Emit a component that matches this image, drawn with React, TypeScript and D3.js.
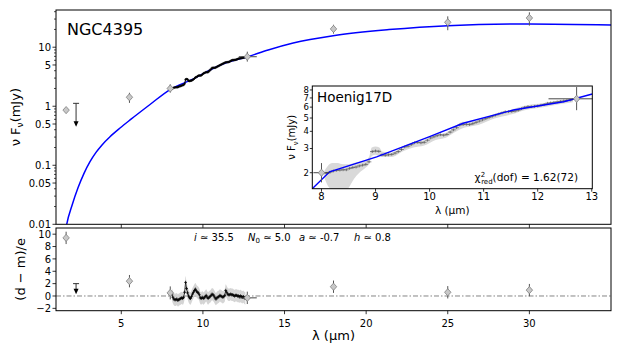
import React from "react";
import * as d3 from "d3";

// ---------- data ----------
// photometry (lambda in um, nuFnu in mJy)
const photLam = [1.62, 5.5, 8.0, 12.72, 18.0, 25.0, 30.0];
const photF = [0.86, 1.42, 2.0, 6.9, 20.4, 26.4, 31.3];
const photFLo = [0.86, 1.14, 1.7, 5.7, 17.0, 19.4, 23.2];
const photFHi = [0.86, 1.69, 2.35, 8.4, 24.0, 33.3, 39.0];
const photLamLo = [1.62, 5.5, 7.85, 12.2, 18.0, 25.0, 30.0];
const photLamHi = [1.62, 5.5, 8.15, 13.3, 18.0, 25.0, 30.0];
const photRes = [9.4, 2.4, 0.5, -0.3, 1.5, 0.6, 0.95];
const photResErr = [1, 1, 1.05, 1, 1, 1, 1];

// upper limit
const ulLam = 2.23;
const ulF = 1.12;
const ulRes = 2.0;

// model curve (main panel)
const modelLam = [1.55, 1.656, 1.98, 2.348, 2.716, 3.083, 3.451, 3.819, 4.309, 4.922, 5.596, 6.76, 7.985, 9.42, 10.5, 11.46, 12.74, 14.0, 15.53, 17.98, 21.4, 25.0, 30.0, 35.0];
const modelF = [0.0068, 0.01, 0.0208, 0.0415, 0.0728, 0.1149, 0.1652, 0.2214, 0.3048, 0.4279, 0.6033, 1.07, 1.92, 2.9, 4.2, 5.5, 6.9, 9.0, 11.8, 15.7, 19.9, 23.2, 24.8, 23.8];

// model sampled for the inset
const insetModelLam = [7.83, 8.15, 9.02, 10.0, 10.62, 11.55, 12.48, 13.01];
const insetModelF = [1.53, 2.03, 2.61, 3.66, 4.58, 5.72, 6.57, 7.48];

// spectrum
const specLam = [8.10, 8.16, 8.22, 8.28, 8.34, 8.40, 8.46, 8.52, 8.58, 8.64, 8.70, 8.76, 8.82, 8.88, 8.94, 9.00, 9.06, 9.12, 9.18, 9.24, 9.30, 9.36, 9.42, 9.48, 9.54, 9.60, 9.66, 9.72, 9.78, 9.84, 9.90, 9.96, 10.02, 10.08, 10.14, 10.20, 10.26, 10.32, 10.38, 10.44, 10.50, 10.56, 10.62, 10.68, 10.74, 10.80, 10.86, 10.92, 10.98, 11.04, 11.10, 11.16, 11.22, 11.28, 11.34, 11.40, 11.46, 11.52, 11.58, 11.64, 11.70, 11.76, 11.82, 11.88, 11.94, 12.00, 12.06, 12.12, 12.18, 12.24, 12.30, 12.36, 12.42, 12.48, 12.54, 12.60];
const specF = [1.98, 2.02, 2.06, 2.08, 2.09, 2.10, 2.10, 2.15, 2.18, 2.20, 2.24, 2.27, 2.30, 2.40, 2.85, 2.88, 2.86, 2.70, 2.68, 2.70, 2.72, 2.78, 2.85, 2.95, 3.08, 3.12, 3.20, 3.30, 3.32, 3.30, 3.33, 3.45, 3.58, 3.65, 3.72, 3.78, 3.75, 3.80, 3.95, 4.10, 4.25, 4.45, 4.48, 4.50, 4.48, 4.55, 4.65, 4.75, 4.85, 4.95, 5.05, 5.15, 5.25, 5.35, 5.45, 5.55, 5.56, 5.58, 5.62, 5.70, 5.85, 5.98, 6.05, 6.05, 6.08, 6.12, 6.20, 6.28, 6.40, 6.45, 6.50, 6.55, 6.60, 6.65, 6.70, 6.75];
const specRes = [0.3, -0.2, -0.5, -0.6, -0.6, -0.5, -0.7, -0.6, -0.5, -0.4, -0.3, -0.4, -0.2, 0.6, 2.2, 1.2, 0.5, 0.0, -0.3, -0.4, -0.1, 0.3, 0.6, 0.9, 1.1, 0.8, 0.6, 0.5, 0.2, -0.3, -0.4, -0.2, -0.4, -0.3, -0.1, 0.1, -0.2, -0.4, -0.2, -0.1, 0.1, 0.3, 0.2, 0.0, -0.3, -0.5, -0.3, -0.2, -0.1, 0.1, 0.0, -0.1, -0.2, -0.1, 0.1, 0.9, 0.6, 0.3, 0.2, 0.2, 0.3, 0.2, 0.2, 0.1, 0.0, 0.1, 0.1, 0.0, 0.0, -0.1, 0.0, -0.1, -0.2, -0.1, -0.3, -0.4];
const specResErr = 1.0;

// spectrum uncertainty band
const bandLam = [8.05, 8.12, 8.2, 8.3, 8.4, 8.5, 8.6, 8.7, 8.8, 8.88, 8.93, 9.0, 9.07, 9.12, 9.3, 9.5, 9.7, 9.9, 10.1, 10.3, 10.5, 10.6, 10.7, 10.9, 11.2, 11.5, 11.8, 12.1, 12.4, 12.65];
const bandLo = [1.85, 1.6, 1.5, 1.45, 1.45, 1.55, 1.8, 2.0, 2.15, 2.3, 2.65, 2.7, 2.65, 2.6, 2.6, 2.85, 3.05, 3.15, 3.45, 3.6, 4.0, 4.2, 4.3, 4.45, 4.95, 5.3, 5.75, 6.0, 6.3, 6.5];
const bandHi = [2.05, 2.25, 2.35, 2.35, 2.3, 2.3, 2.35, 2.4, 2.45, 2.6, 3.05, 3.1, 3.05, 2.85, 2.8, 3.1, 3.35, 3.45, 3.75, 3.9, 4.4, 4.7, 4.7, 4.8, 5.3, 5.75, 6.2, 6.4, 6.7, 6.9];

// ticks
const xTicks = [5, 10, 15, 20, 25, 30];
const topYTicks = [0.01, 0.05, 0.1, 0.5, 1, 5, 10];
const topYTickLabels = ["0.01", "0.05", "0.1", "0.5", "1", "5", "10"];
const botYTicks = [-2, 0, 2, 4, 6, 8, 10];
const botYTickLabels = ["\u22122", "0", "2", "4", "6", "8", "10"];
const insetXTicks = [8, 9, 10, 11, 12, 13];
const insetYTicks = [2, 3, 4, 5, 6, 7, 8];

const FONT = "DejaVu Sans";

export default function App() {
  const W = 623, H = 346;
  const X0 = 56, X1 = 611;
  const T0 = 10, T1 = 224.3;
  const B0 = 228, B1 = 310.7;
  const IX0 = 312.3, IX1 = 592.3, IY0 = 86, IY1 = 188.7;

  const x = d3.scaleLinear().domain([1, 35]).range([X0, X1]);
  const yT = d3.scaleLog().domain([0.01, 42.7]).range([T1, T0]);
  const yB = d3.scaleLinear().domain([-2.38, 11]).range([B1, B0]);
  const xi = d3.scaleLinear().domain([7.83, 13.01]).range([IX0, IX1]);
  const yi = d3.scaleLog().domain([1.53, 8.55]).range([IY1, IY0]);

  const minorTop = yT.ticks().filter((t) => !topYTicks.includes(t));

  const modelPath = d3.line<number>().x((_, i) => x(modelLam[i])).y((d) => yT(d)).curve(d3.curveMonotoneX)(modelF) || "";
  const insetModelPath = d3.line<number>().x((_, i) => xi(insetModelLam[i])).y((d) => yi(d))(insetModelF) || "";
  const specPathMain = d3.line<number>().x((_, i) => x(specLam[i])).y((d) => yT(d))(specF) || "";
  const bandInset = d3.area<number>().x((_, i) => xi(bandLam[i])).y0((_, i) => yi(bandLo[i])).y1((d) => yi(d)).curve(d3.curveMonotoneX)(bandHi) || "";
  const resBand = d3.area<number>().x((_, i) => x(specLam[i])).y0((d) => yB(d - specResErr)).y1((d) => yB(d + specResErr)).curve(d3.curveMonotoneX)(specRes) || "";
  const resLine = d3.line<number>().x((_, i) => x(specLam[i])).y((d) => yB(d))(specRes) || "";

  const diamond = (cx: number, cy: number, k: string) => (
    <path key={k} d={`M${cx},${cy - 3.6}L${cx + 3.2},${cy}L${cx},${cy + 3.6}L${cx - 3.2},${cy}Z`} fill="#c8c8c8" stroke="#808080" strokeWidth={0.8} />
  );
  const plus = (cx: number, cy: number, hw: number, hh: number, color: string, sw: number, k: string) => (
    <path key={k} d={`M${cx - hw},${cy}H${cx + hw}M${cx},${cy - hh}V${cy + hh}`} stroke={color} strokeWidth={sw} fill="none" />
  );

  const tickFs = 10;

  return (
    <svg width={W} height={H} style={{ position: "absolute", left: 0, top: 0, background: "#fff" }} fontFamily={FONT}>
      <defs>
        <clipPath id="cpTop"><rect x={X0} y={T0} width={X1 - X0} height={T1 - T0} /></clipPath>
        <clipPath id="cpBot"><rect x={X0} y={B0} width={X1 - X0} height={B1 - B0} /></clipPath>
        <clipPath id="cpIn"><rect x={IX0} y={IY0} width={IX1 - IX0} height={IY1 - IY0} /></clipPath>
      </defs>
      <rect x={0} y={0} width={W} height={H} fill="#fff" />

      {/* ===== top panel ===== */}
      <g clipPath="url(#cpTop)">
        <path d={modelPath} fill="none" stroke="#0000ff" strokeWidth={1.5} />
        <path d={specPathMain} fill="none" stroke="#111" strokeWidth={1.2} />
        {specLam.map((l, i) => plus(x(l), yT(specF[i]), 1.3, 1.3, "#000", 0.8, "sm" + i))}
        {photLam.map((l, i) => (
          <g key={"pe" + i}>
            <line x1={x(l)} x2={x(l)} y1={yT(photFLo[i])} y2={yT(photFHi[i])} stroke="#555" strokeWidth={1} />
            <line x1={x(photLamLo[i])} x2={x(photLamHi[i])} y1={yT(photF[i])} y2={yT(photF[i])} stroke="#333" strokeWidth={0.9} />
          </g>
        ))}
        {photLam.map((l, i) => diamond(x(l), yT(photF[i]), "pd" + i))}
        {/* upper limit */}
        <line x1={x(ulLam) - 3} x2={x(ulLam) + 3} y1={yT(ulF)} y2={yT(ulF)} stroke="#333" strokeWidth={1} />
        <line x1={x(ulLam)} x2={x(ulLam)} y1={yT(ulF)} y2={yT(ulF) + 19} stroke="#333" strokeWidth={1} />
        <path d={`M${x(ulLam) - 2.5},${yT(ulF) + 18}L${x(ulLam) + 2.5},${yT(ulF) + 18}L${x(ulLam)},${yT(ulF) + 23.5}Z`} fill="#000" />
      </g>
      <rect x={X0} y={T0} width={X1 - X0} height={T1 - T0} fill="none" stroke="#000" strokeWidth={1} />
      {minorTop.map((t, i) => (
        <line key={"mt" + i} x1={X0 - 2} x2={X0} y1={yT(t)} y2={yT(t)} stroke="#000" strokeWidth={0.7} />
      ))}
      {topYTicks.map((t, i) => (
        <g key={"yt" + i}>
          <line x1={X0 - 3.5} x2={X0} y1={yT(t)} y2={yT(t)} stroke="#000" strokeWidth={0.8} />
          <text x={X0 - 5} y={yT(t)} dy="0.36em" textAnchor="end" fontSize={tickFs}>{topYTickLabels[i]}</text>
        </g>
      ))}
      {xTicks.map((t, i) => (
        <line key={"xtt" + i} x1={x(t)} x2={x(t)} y1={T1} y2={T1 + 3.5} stroke="#000" strokeWidth={0.8} />
      ))}
      <text x={67} y={35} fontSize={16}>NGC4395</text>
      <text transform={`translate(20,${(T0 + T1) / 2}) rotate(-90)`} textAnchor="middle" fontSize={13}>
        ν F<tspan fontSize={9} dy="3">ν</tspan><tspan dy="-3">(mJy)</tspan>
      </text>

      {/* ===== inset ===== */}
      <rect x={IX0} y={IY0} width={IX1 - IX0} height={IY1 - IY0} fill="#fff" />
      <g clipPath="url(#cpIn)">
        <path d={bandInset} fill="#d9d9d9" />
        {specLam.map((l, i) => plus(xi(l), yi(specF[i]), 2.3, 1.4, "#555", 0.7, "si" + i))}
        <path d={insetModelPath} fill="none" stroke="#0000ff" strokeWidth={1.4} />
        {photLam.map((l, i) => (
          <g key={"ie" + i}>
            <line x1={xi(l)} x2={xi(l)} y1={yi(photFLo[i])} y2={yi(photFHi[i])} stroke="#555" strokeWidth={1} />
            <line x1={xi(photLamLo[i])} x2={xi(photLamHi[i])} y1={yi(photF[i])} y2={yi(photF[i])} stroke="#333" strokeWidth={0.9} />
          </g>
        ))}
        {photLam.map((l, i) => diamond(xi(l), yi(photF[i]), "id" + i))}
      </g>
      <rect x={IX0} y={IY0} width={IX1 - IX0} height={IY1 - IY0} fill="none" stroke="#000" strokeWidth={1} />
      {insetXTicks.map((t, i) => (
        <g key={"ixt" + i}>
          <line x1={xi(t)} x2={xi(t)} y1={IY1} y2={IY1 + 3} stroke="#000" strokeWidth={0.8} />
          <text x={xi(t)} y={200} textAnchor="middle" fontSize={tickFs}>{t}</text>
        </g>
      ))}
      {insetYTicks.map((t, i) => (
        <g key={"iyt" + i}>
          <line x1={IX0 - 2.5} x2={IX0} y1={yi(t)} y2={yi(t)} stroke="#000" strokeWidth={0.8} />
          <text x={IX0 - 3.5} y={yi(t)} dy="0.34em" textAnchor="end" fontSize={8.5}>{t}</text>
        </g>
      ))}
      <text x={317} y={102} fontSize={13.5}>Hoenig17D</text>
      <text x={578} y={181} textAnchor="end" fontSize={10.5}>
        χ<tspan fontSize={7} dy="-4.5">2</tspan><tspan fontSize={7} dx="-4" dy="7.5">red</tspan><tspan dy="-3">(dof) = 1.62(72)</tspan>
      </text>
      <text x={(IX0 + IX1) / 2} y={214} textAnchor="middle" fontSize={10.5}>λ (μm)</text>
      <text transform={`translate(295,${(IY0 + IY1) / 2}) rotate(-90)`} textAnchor="middle" fontSize={10}>
        ν F<tspan fontSize={7} dy="2.5">ν</tspan><tspan dy="-2.5">(mJy)</tspan>
      </text>

      {/* ===== bottom panel ===== */}
      <g clipPath="url(#cpBot)">
        <line x1={X0} x2={X1} y1={yB(0)} y2={yB(0)} stroke="#777" strokeWidth={0.9} strokeDasharray="5,2,1.5,2" />
        <path d={resBand} fill="#d0d0d0" opacity={0.9} />
        <path d={resLine} fill="none" stroke="#222" strokeWidth={0.8} />
        {specLam.map((l, i) => plus(x(l), yB(specRes[i]), 1.4, 1.6, "#000", 0.8, "rs" + i))}
        {photLam.map((l, i) => (
          <g key={"re" + i}>
            <line x1={x(l)} x2={x(l)} y1={yB(photRes[i] - photResErr[i])} y2={yB(photRes[i] + photResErr[i])} stroke="#555" strokeWidth={1} />
            <line x1={x(photLamLo[i])} x2={x(photLamHi[i])} y1={yB(photRes[i])} y2={yB(photRes[i])} stroke="#333" strokeWidth={0.9} />
          </g>
        ))}
        {photLam.map((l, i) => diamond(x(l), yB(photRes[i]), "rd" + i))}
        <line x1={x(ulLam) - 3} x2={x(ulLam) + 3} y1={yB(ulRes)} y2={yB(ulRes)} stroke="#333" strokeWidth={1} />
        <line x1={x(ulLam)} x2={x(ulLam)} y1={yB(ulRes)} y2={yB(ulRes) + 6} stroke="#333" strokeWidth={1} />
        <path d={`M${x(ulLam) - 2.5},${yB(ulRes) + 5}L${x(ulLam) + 2.5},${yB(ulRes) + 5}L${x(ulLam)},${yB(ulRes) + 10.5}Z`} fill="#000" />
      </g>
      <rect x={X0} y={B0} width={X1 - X0} height={B1 - B0} fill="none" stroke="#000" strokeWidth={1} />
      {botYTicks.map((t, i) => (
        <g key={"byt" + i}>
          <line x1={X0 - 3.5} x2={X0} y1={yB(t)} y2={yB(t)} stroke="#000" strokeWidth={0.8} />
          <text x={X0 - 5} y={yB(t)} dy="0.36em" textAnchor="end" fontSize={tickFs}>{botYTickLabels[i]}</text>
        </g>
      ))}
      {xTicks.map((t, i) => (
        <g key={"bxt" + i}>
          <line x1={x(t)} x2={x(t)} y1={B1} y2={B1 + 3.5} stroke="#000" strokeWidth={0.8} />
          <text x={x(t)} y={326.5} textAnchor="middle" fontSize={tickFs}>{t}</text>
        </g>
      ))}
      <text x={(X0 + X1) / 2} y={339.5} textAnchor="middle" fontSize={13}>λ (μm)</text>
      <text transform={`translate(25,${(B0 + B1) / 2}) rotate(-90)`} textAnchor="middle" fontSize={13}>(d − m)/e</text>
      <g fontSize={10}>
        <text x={194} y={240.5}><tspan fontStyle="italic">i</tspan> ≃ 35.5</text>
        <text x={248} y={240.5}><tspan fontStyle="italic">N</tspan><tspan fontSize={7} dy="2">0</tspan><tspan dy="-2"> ≃ 5.0</tspan></text>
        <text x={299} y={240.5}><tspan fontStyle="italic">a</tspan> ≃ -0.7</text>
        <text x={354} y={240.5}><tspan fontStyle="italic">h</tspan> ≃ 0.8</text>
      </g>
    </svg>
  );
}
